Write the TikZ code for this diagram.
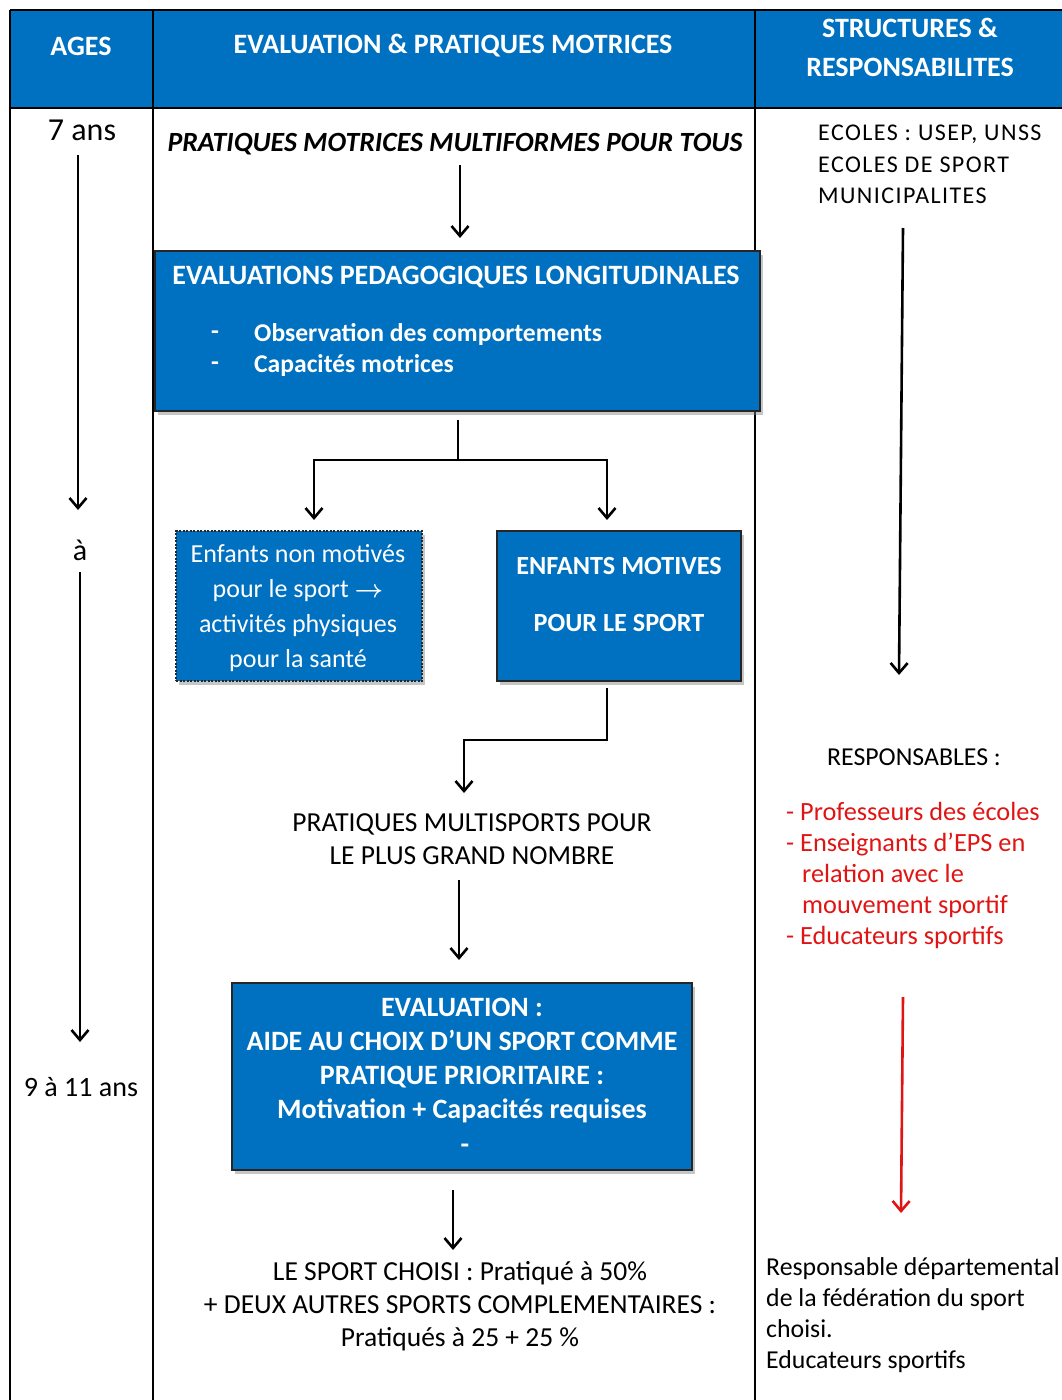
\documentclass[tikz,border=0pt]{standalone}
\usepackage{fontspec}
\setmainfont{Carlito}
\usetikzlibrary{arrows.meta,shadows}
\definecolor{hblue}{RGB}{0,112,192}
\definecolor{rred}{RGB}{225,20,20}
\begin{document}
\begin{tikzpicture}[x=1pt,y=-1pt,
  txt/.style={font=\fontsize{27.5}{33}\selectfont, inner sep=0pt, align=center},
  rtxt/.style={font=\fontsize{25.8}{31}\selectfont, inner sep=0pt, align=left},
  hdr/.style={font=\fontsize{28}{39}\selectfont\bfseries, text=white, align=center, inner sep=0pt},
  wtxt/.style={font=\fontsize{28}{34}\selectfont\bfseries, text=white, align=center, inner sep=0pt},
  bluebox/.style={draw=black!85, line width=1.4pt, fill=hblue, inner sep=0pt,
    drop shadow={shadow xshift=3pt, shadow yshift=-4pt, opacity=0.45}},
  arr/.style={-{Straight Barb[length=10pt,width=17pt,line width=2.6pt]}, line width=2.6pt},
  rule/.style={line width=1.8pt, black}
]
\useasboundingbox (0,0) rectangle (1062,1400);
% table
\fill[hblue] (10,10) rectangle (1062,108);
\draw[rule] (10,10) -- (1062,10);
\draw[rule] (10,108) -- (1062,108);
\draw[rule] (10,10) -- (10,1400);
\draw[rule] (153,10) -- (153,1400);
\draw[rule] (755,10) -- (755,1400);
% headers
\node[hdr] (h1) at (81,46) {AGES};
\node[hdr] (h2) at (453,46) {EVALUATION \& PRATIQUES MOTRICES};
\node[hdr] (h3) at (910,47) {STRUCTURES \&\\RESPONSABILITES};
% ages column
\node[txt, font=\fontsize{32}{36}\selectfont] (a7) at (82,130) {7 ans};
\node[txt, font=\fontsize{30}{34}\selectfont] (aa) at (80,550) {à};
\node[txt, font=\fontsize{28}{33}\selectfont] (a9) at (81,1087) {9 à 11 ans};
\coordinate (l1s) at (78,155); \coordinate (l1e) at (78,510);
\coordinate (l2s) at (80,572); \coordinate (l2e) at (80,1042);
\draw[arr] (l1s) -- (l1e);
\draw[arr] (l2s) -- (l2e);
% middle column
\node[txt, font=\fontsize{27.8}{30}\selectfont\bfseries\itshape] (t1) at (455,144) {PRATIQUES MOTRICES MULTIFORMES POUR TOUS};
\node[bluebox, minimum width=605pt, minimum height=160pt] (b1) at (457.5,331) {};
\node[wtxt] (b1t) at (456,277) {EVALUATIONS PEDAGOGIQUES LONGITUDINALES};
\node[wtxt, anchor=west, font=\fontsize{25.6}{31}\selectfont\bfseries] (b1d1) at (211,335) {-};
\node[wtxt, anchor=west, font=\fontsize{25.6}{31}\selectfont\bfseries] (b1d2) at (211,366) {-};
\node[wtxt, anchor=west, font=\fontsize{25.6}{31}\selectfont\bfseries] (b1l1) at (254,335) {Observation des comportements};
\node[wtxt, anchor=west, font=\fontsize{25.6}{31}\selectfont\bfseries] (b1l2) at (254,366) {Capacités motrices};
\coordinate (t1a) at (460,165); \coordinate (b1a) at (460,238);
\draw[arr] (t1a) -- (b1a);
\node[bluebox, dashed, dash pattern=on 2pt off 1.5pt, minimum width=246pt, minimum height=150pt] (b2) at (299,606) {};
\node[txt, font=\fontsize{26}{35}\selectfont, text=white] (b2t) at (298,608.5)
  {Enfants non motivés\\pour le sport {\boldmath$\rightarrow$}\\activités physiques\\pour la santé};
\node[bluebox, minimum width=244pt, minimum height=150pt] (b3) at (619,606) {};
\node[txt, font=\fontsize{26.2}{57}\selectfont\bfseries, text=white] (b3t) at (619,594)
  {ENFANTS MOTIVES\\POUR LE SPORT};
\coordinate (j0) at (458,420); \coordinate (j) at (458,460);
\coordinate (a2) at (314,520); \coordinate (a3) at (607,520);
\draw[line width=2.6pt] (j0) -- (j);
\draw[arr] (j) -| (a2);
\draw[arr] (j) -| (a3);
\node[txt] (t2) at (472,839) {PRATIQUES MULTISPORTS POUR\\LE PLUS GRAND NOMBRE};
\coordinate (c3) at (607,688); \coordinate (c3b) at (607,740); \coordinate (t2a) at (464,793);
\draw[arr] (c3) -- (c3b) -| (t2a);
\node[bluebox, minimum width=460pt, minimum height=187pt] (b4) at (462,1076.5) {};
\node[wtxt] (b4t) at (462,1061) {EVALUATION :\\AIDE AU CHOIX D’UN SPORT COMME\\PRATIQUE PRIORITAIRE :\\Motivation + Capacités requises};
\node[wtxt] (b4d) at (465,1149) {-};
\coordinate (t2b) at (459,880); \coordinate (b4a) at (459,960);
\draw[arr] (t2b) -- (b4a);
\node[txt] (t3) at (460,1306) {LE SPORT CHOISI : Pratiqué à 50\%\\+ DEUX AUTRES SPORTS COMPLEMENTAIRES :\\Pratiqués à 25 + 25 \%};
\coordinate (b4b) at (453,1190); \coordinate (t3a) at (453,1250);
\draw[arr] (b4b) -- (t3a);
% right column
\node[rtxt, anchor=north west, font=\fontsize{24}{31.5}\selectfont\addfontfeature{LetterSpace=6}] (r1) at (818,125) {ECOLES : USEP, UNSS\\ECOLES DE SPORT\\MUNICIPALITES};
\coordinate (r1a) at (903,228); \coordinate (r2a) at (899,675);
\draw[arr] (r1a) -- (r2a);
\node[rtxt] (r2) at (914,757) {RESPONSABLES :};
\node[rtxt, anchor=north west, text=rred, font=\fontsize{26.3}{31}\selectfont] (r3) at (786,802) {- Professeurs des écoles\\- Enseignants d’EPS en\\\hspace*{16pt}relation avec le\\\hspace*{16pt}mouvement sportif\\- Educateurs sportifs};
\coordinate (r3a) at (903,997); \coordinate (r4a) at (901,1213);
\draw[arr, rred] (r3a) -- (r4a);
\node[rtxt, anchor=north west] (r4) at (766,1257) {Responsable départemental\\de la fédération du sport\\choisi.\\Educateurs sportifs};
\end{tikzpicture}
\end{document}
